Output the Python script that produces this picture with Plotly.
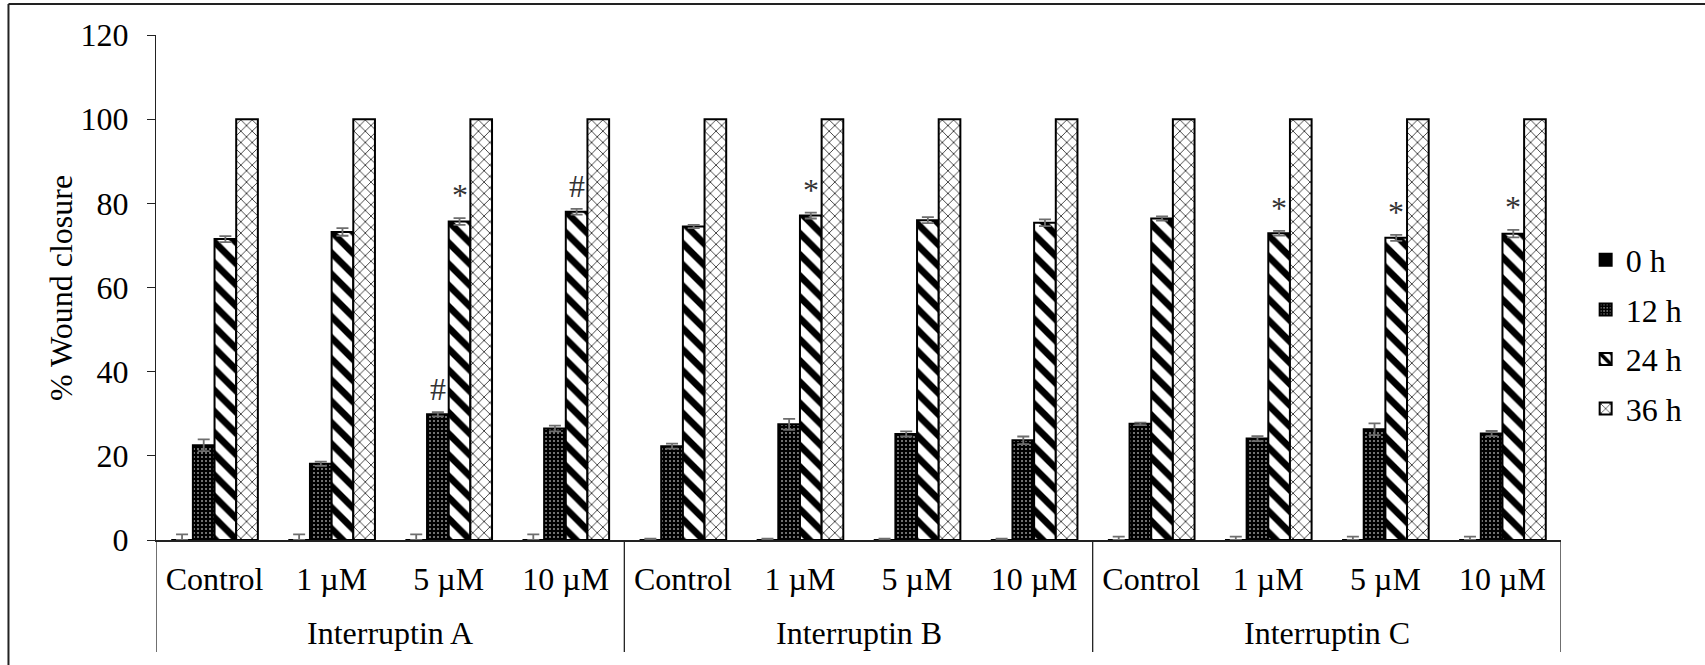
import plotly.graph_objects as go

# ---- data ----
groups = ["Interruptin A", "Interruptin B", "Interruptin C"]
concentrations = ["Control", "1 µM", "5 µM", "10 µM"]
series_names = ["0 h", "12 h", "24 h", "36 h"]
y_title = "% Wound closure"

val_0h = [0] * 12
err_0h = [1.35, 1.35, 1.35, 1.35, 0.3, 0.3, 0.3, 0.3, 0.8, 0.8, 0.8, 0.8]

val_12h = [22.5, 18.1, 29.9, 26.5, 22.3, 27.5, 25.2, 23.7, 27.6, 24.1, 26.3, 25.3]
err_12h = [1.4, 0.5, 0.5, 0.7, 0.6, 1.3, 0.6, 0.9, 0.3, 0.6, 1.4, 0.6]

val_24h = [71.5, 73.2, 75.7, 78.0, 74.5, 77.1, 76.0, 75.4, 76.4, 72.9, 71.8, 72.8]
err_24h = [0.7, 0.9, 0.8, 0.7, 0.4, 0.7, 0.7, 0.8, 0.5, 0.55, 0.7, 0.9]

val_36h = [100] * 12
err_36h = [0] * 12

sig_12h = ["", "", "#", "", "", "", "", "", "", "", "", ""]
sig_24h = ["", "", "*", "#", "", "*", "", "", "", "*", "*", "*"]

# ---- derived positions ----
n_cat = len(groups) * len(concentrations)
xpos = list(range(n_cat))
tick_text = concentrations * len(groups)

FONT = "'Times New Roman', 'Liberation Serif', Times, serif"
FS = 32
ERRC = "#6e6e6e"

patterns = [
    dict(shape=""),
    dict(shape=".", fgcolor="white", bgcolor="black", size=4, solidity=0.13,
         fgopacity=1, fillmode="replace"),
    dict(shape="\\", fgcolor="#000000", bgcolor="white", size=15, solidity=0.45,
         fgopacity=1, fillmode="replace"),
    dict(shape="x", fgcolor="#000000", bgcolor="white", size=8, solidity=0.17,
         fgopacity=1, fillmode="replace"),
]
fills = ["black", "black", "white", "white"]
vals = [val_0h, val_12h, val_24h, val_36h]
errs = [err_0h, err_12h, err_24h, err_36h]
errs_minus = [[0] * 12, err_12h, err_24h, err_36h]

fig = go.Figure()
for i, name in enumerate(series_names):
    fig.add_trace(go.Bar(
        x=xpos, y=vals[i], name=name, legendgroup=name,
        marker=dict(color=fills[i], pattern=patterns[i], opacity=1,
                    line=dict(color="black", width=2)),
        error_y=dict(type="data", array=errs[i], arrayminus=errs_minus[i],
                     symmetric=False, color=ERRC, thickness=1.8, width=6,
                     visible=(name != "36 h")),
    ))

# bar offsets within a category (group barmode)
bargap = 0.26
bw = (1 - bargap) / 4
offs = [(-1.5 + k) * bw for k in range(4)]

annotations = []
for i in range(n_cat):
    if sig_12h[i]:
        annotations.append(dict(x=xpos[i] + offs[1], y=val_12h[i] + err_12h[i],
                                text=sig_12h[i], showarrow=False, yanchor="bottom",
                                yshift=3, font=dict(family=FONT, size=FS, color="#333")))
    if sig_24h[i]:
        annotations.append(dict(x=xpos[i] + offs[2], y=val_24h[i] + err_24h[i],
                                text=sig_24h[i], showarrow=False, yanchor="bottom",
                                yshift=3, font=dict(family=FONT, size=FS, color="#333")))

# group labels
for g, name in enumerate(groups):
    center = g * len(concentrations) + (len(concentrations) - 1) / 2
    annotations.append(dict(x=center, xref="x", y=-0.1835, yref="paper", text=name,
                            showarrow=False, yanchor="middle",
                            font=dict(family=FONT, size=FS, color="black")))

# y-axis title
annotations.append(dict(x=-0.068, xref="paper", y=0.5, yref="paper", text=y_title,
                        textangle=-90, showarrow=False, xanchor="center",
                        yanchor="middle",
                        font=dict(family=FONT, size=FS, color="black")))

shapes = []
for g in range(len(groups) + 1):
    xd = g * len(concentrations) - 0.5
    shapes.append(dict(type="line", xref="x", yref="paper", x0=xd, x1=xd,
                       y0=0, y1=-0.222, line=dict(color="#222", width=1.3)))

# outer frame (top and left edges)
shapes.append(dict(type="line", xref="paper", yref="paper", x0=-0.105, x1=1.2,
                   y0=1.0614, y1=1.0614, line=dict(color="#222", width=2)))
shapes.append(dict(type="line", xref="paper", yref="paper", x0=-0.105, x1=-0.105,
                   y0=1.0614, y1=-0.3, line=dict(color="#222", width=2)))

fig.update_layout(
    width=1705, height=665,
    margin=dict(l=155.5, r=144, t=35, b=125),
    paper_bgcolor="white", plot_bgcolor="white",
    barmode="group", bargap=bargap, bargroupgap=0,
    font=dict(family=FONT, size=FS, color="black"),
    showlegend=True,
    legend=dict(xref="container", yref="container", x=0.930, y=0.497,
                xanchor="left", yanchor="middle", tracegroupgap=5,
                font=dict(family=FONT, size=FS, color="black"),
                bgcolor="rgba(0,0,0,0)"),
    annotations=annotations,
    shapes=shapes,
    xaxis=dict(range=[-0.5, n_cat - 0.5], tickmode="array", tickvals=xpos,
               ticktext=tick_text, showgrid=False, zeroline=False,
               showline=True, linecolor="#222", linewidth=1.5, ticks="",
               ticklabelstandoff=10,
               tickfont=dict(family=FONT, size=FS, color="black")),
    yaxis=dict(range=[0, 120], tickvals=[0, 20, 40, 60, 80, 100, 120],
               showgrid=False, zeroline=False, showline=True, linecolor="#222",
               linewidth=1.3, ticks="outside", ticklen=8, tickcolor="#222",
               ticklabelstandoff=12,
               tickfont=dict(family=FONT, size=FS, color="black")),
)

fig.write_html("out.html")
